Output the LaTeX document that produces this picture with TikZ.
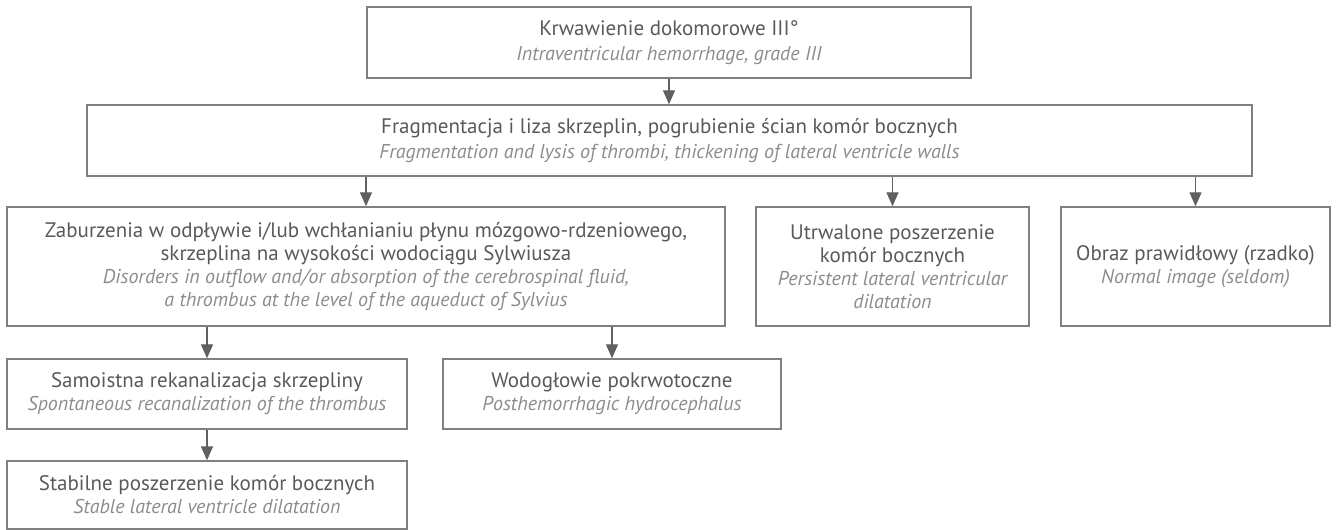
\documentclass[tikz,border=0pt]{standalone}
\usepackage{fontspec}
\setmainfont{PT Sans}
\usetikzlibrary{arrows.meta}
\definecolor{boxline}{HTML}{808080}
\definecolor{arrowc}{HTML}{606060}
\definecolor{pltext}{HTML}{58595B}
\definecolor{entext}{HTML}{8C8C8C}
\newcommand{\pl}[1]{{\color{pltext}#1}}
\newcommand{\en}[1]{{\color{entext}\fontsize{20}{23}\selectfont\itshape #1}}
\tikzset{
  x=1pt, y=1pt,
  box/.style={draw=boxline, line width=1.4pt, rectangle, inner sep=0pt, align=center,
    font=\fontsize{21}{23}\selectfont, anchor=center},
  arr/.style={draw=arrowc, line width=1.3pt, -{Triangle[width=12pt,length=14pt]}},
}
\begin{document}
\begin{tikzpicture}
\useasboundingbox (0,0) rectangle (1336,-530);
\node[box, minimum width=604, minimum height=71] (b1) at (669,-42.5)
  {\pl{Krwawienie dokomorowe III°}\\[2pt]\en{Intraventricular hemorrhage, grade III}};
\node[box, minimum width=1165, minimum height=71] (b2) at (669.5,-140.5)
  {\pl{Fragmentacja i liza skrzeplin, pogrubienie ścian komór bocznych}\\[2pt]\en{Fragmentation and lysis of thrombi, thickening of lateral ventricle walls}};
\node[box, minimum width=718, minimum height=119] (b3) at (366,-266.5)
  {\pl{Zaburzenia w odpływie i/lub wchłanianiu płynu mózgowo-rdzeniowego,}\\\pl{skrzeplina na wysokości wodociągu Sylwiusza}\\\en{Disorders in outflow and/or absorption of the cerebrospinal fluid,}\\\en{a thrombus at the level of the aqueduct of Sylvius}};
\node[box, minimum width=273, minimum height=119] (b4) at (892.5,-266.5)
  {\pl{Utrwalone poszerzenie}\\\pl{komór bocznych}\\\en{Persistent lateral ventricular}\\\en{dilatation}};
\node[box, minimum width=269, minimum height=119] (b5) at (1195.5,-266.5)
  {\pl{Obraz prawidłowy (rzadko)}\\\en{Normal image (seldom)}};
\node[box, minimum width=400, minimum height=70] (b6) at (207,-394)
  {\pl{Samoistna rekanalizacja skrzepliny}\\\en{Spontaneous recanalization of the thrombus}};
\node[box, minimum width=338, minimum height=70] (b7) at (612,-394)
  {\pl{Wodogłowie pokrwotoczne}\\\en{Posthemorrhagic hydrocephalus}};
\node[box, minimum width=400, minimum height=68] (b8) at (207,-495)
  {\pl{Stabilne poszerzenie komór bocznych}\\\en{Stable lateral ventricle dilatation}};
\draw[arr] (b1.south) -- (b1.south |- b2.north);
\draw[arr] (b2.south -| b3.north) -- (b3.north);
\draw[arr] (b2.south -| b4.north) -- (b4.north);
\draw[arr] (b2.south -| b5.north) -- (b5.north);
\draw[arr] (b6.north |- b3.south) -- (b6.north);
\draw[arr] (b7.north |- b3.south) -- (b7.north);
\draw[arr] (b6.south) -- (b8.north);
\end{tikzpicture}
\end{document}
